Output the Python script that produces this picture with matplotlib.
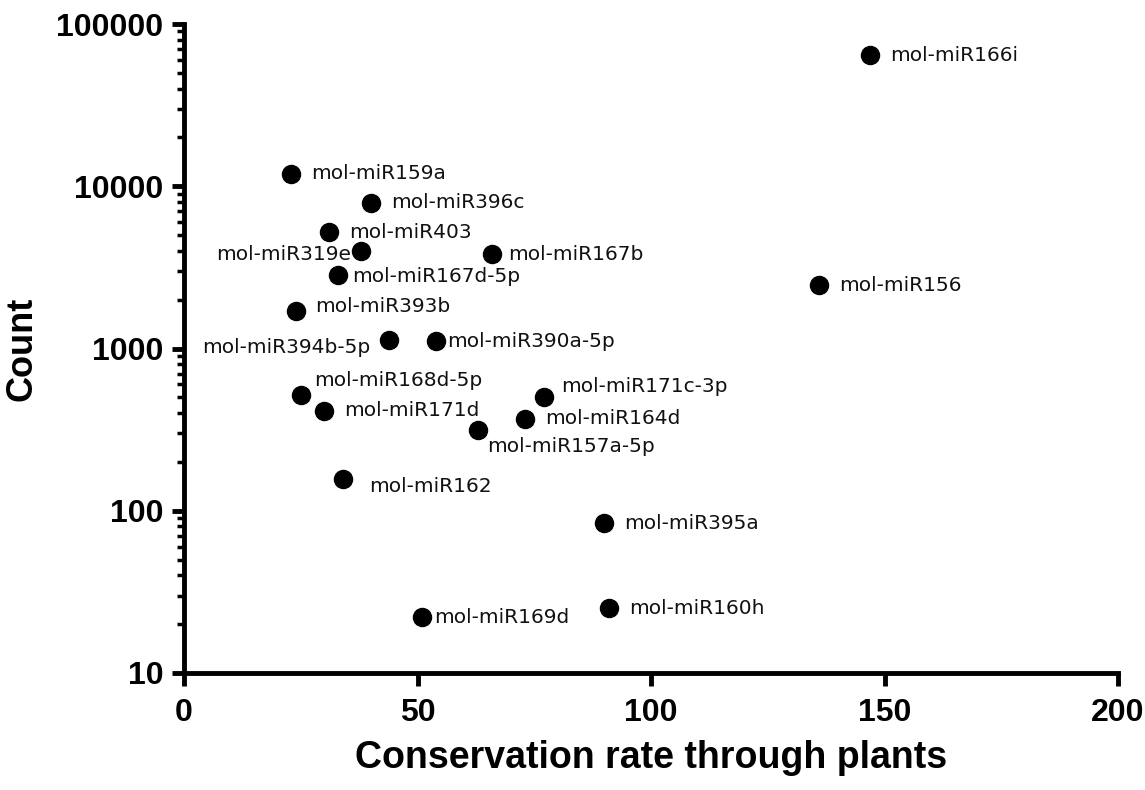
import numpy as np
import matplotlib
matplotlib.use("Agg")
import matplotlib.pyplot as plt
from matplotlib.ticker import LogLocator, FuncFormatter, NullFormatter

# data
names = ["mol-miR166i", "mol-miR159a", "mol-miR396c", "mol-miR403", "mol-miR319e",
         "mol-miR167b", "mol-miR167d-5p", "mol-miR156", "mol-miR393b", "mol-miR394b-5p",
         "mol-miR390a-5p", "mol-miR168d-5p", "mol-miR171d", "mol-miR171c-3p", "mol-miR164d",
         "mol-miR157a-5p", "mol-miR162", "mol-miR395a", "mol-miR169d", "mol-miR160h"]
conservation = [147, 23, 40, 31, 38, 66, 33, 136, 24, 44,
                54, 25, 30, 77, 73, 63, 34, 90, 51, 91]
counts = [64000, 11900, 7900, 5200, 4000, 3800, 2840, 2460, 1700, 1130,
          1110, 517, 412, 503, 368, 314, 157, 84, 22, 25]

# label offsets (pixels) and alignment
offsets = {
    "mol-miR319e": (-10, -4, "right"),
    "mol-miR167d-5p": (14, -2, "left"),
    "mol-miR393b": (19, 5, "left"),
    "mol-miR394b-5p": (-19, -8, "right"),
    "mol-miR390a-5p": (11, 0, "left"),
    "mol-miR168d-5p": (13, 14, "left"),
    "mol-miR171c-3p": (18, 10, "left"),
    "mol-miR157a-5p": (9, -16, "left"),
    "mol-miR162": (26, -8, "left"),
    "mol-miR167b": (16, 0, "left"),
    "mol-miR169d": (12, 0, "left"),
}

fig = plt.figure(figsize=(11.45, 7.9), dpi=100)
ax = fig.add_axes([184 / 1145, 1 - 673 / 790, (1118 - 184) / 1145, (673 - 24) / 790])

ax.plot(conservation, counts, "o", color="black", markersize=13, clip_on=False, zorder=3)

for name, x, y in zip(names, conservation, counts):
    dx, dy, ha = offsets.get(name, (20, 0, "left"))
    ax.annotate(name, (x, y), xytext=(dx, dy), textcoords="offset pixels",
                ha=ha, va="center", fontsize=14.5, family="DejaVu Sans", color="#111111")

ax.set_yscale("log")
ax.set_xlim(0, 200)
ax.set_ylim(10, 100000)
ax.set_xticks([0, 50, 100, 150, 200])
ax.yaxis.set_major_locator(LogLocator(base=10, numticks=10))
ax.yaxis.set_minor_locator(LogLocator(base=10, subs=np.arange(2, 10), numticks=20))
ax.yaxis.set_major_formatter(FuncFormatter(lambda v, p: f"{int(round(v))}"))
ax.yaxis.set_minor_formatter(NullFormatter())

for side in ["top", "right"]:
    ax.spines[side].set_visible(False)
for side in ["left", "bottom"]:
    ax.spines[side].set_linewidth(3.5)

ax.tick_params(axis="both", which="major", direction="out", length=9, width=3.5,
               labelsize=23, pad=6)
ax.tick_params(axis="x", which="major", pad=9)
ax.tick_params(axis="y", which="minor", direction="out", length=5, width=2.5)
for lab in ax.get_xticklabels() + ax.get_yticklabels():
    lab.set_fontfamily("Liberation Sans")
    lab.set_fontweight("bold")

ax.set_xlabel("Conservation rate through plants", fontsize=27, fontweight="bold",
              family="Liberation Sans", labelpad=9)
ax.set_ylabel("Count", fontsize=26, fontweight="bold", family="Liberation Sans", labelpad=12)

fig.savefig("out.png", dpi=100)
